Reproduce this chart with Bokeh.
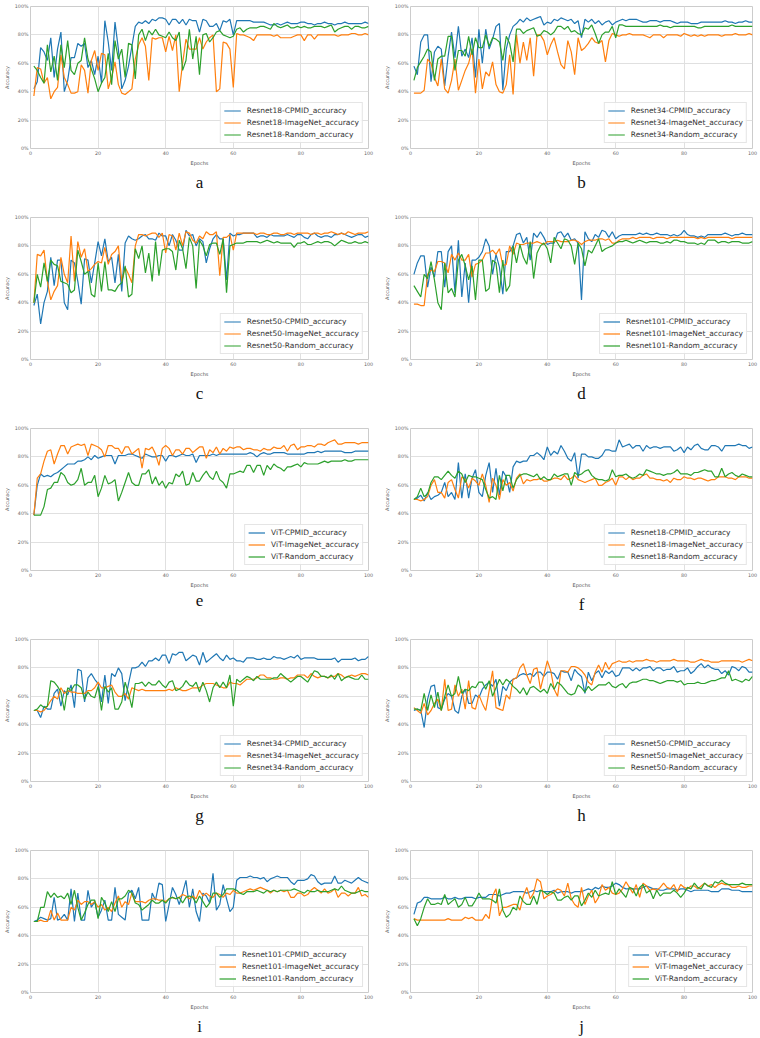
from bokeh.plotting import figure
from bokeh.layouts import row, column
from bokeh.models import FixedTicker, Legend, LegendItem, Title
from bokeh.embed import file_html
from bokeh.resources import INLINE

# ---------------- data (accuracy in %, epochs 1..100) ----------------
a_cpmid = [42, 47, 71, 68, 62, 78, 50, 70, 82, 40,
           48, 64, 64, 74, 72, 74, 57, 62, 52, 65,
           46, 90, 75, 55, 89, 70, 42, 48, 58, 72,
           86, 89, 88, 90, 88, 91, 90, 92, 92, 91,
           87, 91, 91, 88, 91, 87, 91, 90, 90, 82,
           91, 90, 86, 86, 88, 83, 90, 89, 91, 80,
           90, 90, 90, 90, 90, 89, 89, 89, 89, 88,
           87, 87, 88, 87, 88, 89, 88, 88, 88, 89,
           89, 88, 88, 87, 88, 88, 89, 88, 88, 87,
           88, 88, 89, 88, 88, 88, 88, 88, 89, 88]
a_imagenet = [37, 57, 56, 46, 50, 35, 40, 43, 66, 50,
              45, 39, 39, 40, 59, 55, 39, 62, 69, 55,
              67, 66, 42, 50, 61, 45, 39, 38, 40, 42,
              63, 73, 78, 72, 48, 78, 77, 78, 78, 68,
              79, 69, 80, 40, 60, 77, 70, 70, 70, 78,
              70, 75, 78, 80, 40, 42, 75, 74, 70, 43,
              81, 80, 80, 79, 78, 76, 80, 80, 80, 80,
              80, 79, 80, 78, 78, 78, 78, 79, 80, 80,
              76, 80, 80, 77, 80, 80, 80, 80, 80, 80,
              79, 80, 80, 80, 81, 81, 80, 80, 81, 80]
a_random = [58, 55, 50, 46, 73, 54, 65, 48, 73, 57,
            76, 55, 52, 60, 62, 78, 63, 56, 49, 40,
            46, 50, 67, 45, 76, 63, 70, 50, 74, 73,
            49, 80, 84, 76, 83, 80, 84, 80, 79, 78,
            82, 78, 76, 82, 55, 62, 84, 63, 79, 52,
            80, 81, 75, 78, 82, 83, 80, 79, 78, 79,
            84, 85, 82, 84, 85, 85, 85, 86, 86, 85,
            84, 88, 86, 85, 86, 87, 85, 85, 86, 85,
            86, 85, 85, 86, 86, 86, 85, 86, 87, 82,
            84, 85, 86, 86, 84, 86, 86, 85, 85, 86]

b_cpmid = [58, 52, 75, 80, 80, 47, 68, 72, 70, 44,
           65, 82, 64, 86, 65, 70, 64, 78, 50, 84,
           60, 84, 70, 77, 86, 88, 41, 70, 80, 86,
           88, 91, 89, 92, 90, 91, 92, 93, 87, 89,
           88, 91, 90, 92, 91, 90, 91, 88, 90, 78,
           91, 89, 91, 88, 90, 87, 89, 90, 87, 89,
           90, 91, 90, 91, 91, 91, 90, 89, 89, 90,
           90, 90, 89, 90, 90, 90, 89, 88, 89, 89,
           89, 88, 88, 88, 89, 89, 89, 89, 89, 89,
           89, 90, 89, 89, 88, 89, 89, 90, 89, 89]
b_imagenet = [39, 39, 39, 41, 63, 60, 50, 44, 63, 42,
              39, 48, 63, 41, 48, 55, 60, 70, 39, 63,
              42, 54, 51, 61, 45, 40, 39, 45, 66, 38,
              80, 60, 75, 62, 78, 51, 80, 80, 76, 66,
              73, 78, 68, 59, 56, 76, 68, 52, 78, 69,
              71, 74, 78, 75, 74, 76, 61, 76, 81, 80,
              79, 80, 80, 81, 80, 80, 80, 80, 79, 78,
              80, 80, 80, 78, 80, 80, 80, 80, 79, 81,
              80, 79, 80, 79, 80, 79, 80, 80, 80, 80,
              79, 80, 80, 80, 81, 80, 80, 80, 81, 80]
b_random = [48, 57, 61, 65, 70, 68, 48, 63, 65, 65,
            79, 79, 55, 69, 69, 65, 79, 66, 78, 71,
            71, 80, 72, 78, 77, 75, 62, 79, 74, 61,
            84, 84, 81, 83, 84, 85, 79, 80, 83, 82,
            80, 82, 86, 86, 84, 86, 82, 83, 81, 80,
            85, 84, 87, 81, 74, 80, 82, 82, 86, 78,
            87, 87, 86, 86, 86, 86, 86, 86, 86, 86,
            86, 86, 87, 86, 86, 85, 86, 86, 86, 86,
            86, 86, 86, 85, 85, 86, 86, 86, 86, 86,
            86, 86, 86, 87, 86, 86, 86, 86, 86, 86]

c_cpmid = [38, 46, 25, 40, 48, 72, 52, 70, 70, 40,
           35, 70, 68, 55, 39, 71, 70, 54, 68, 83,
           73, 85, 69, 72, 54, 74, 48, 82, 87, 85,
           84, 85, 87, 88, 85, 85, 84, 89, 87, 87,
           80, 88, 84, 77, 77, 91, 87, 88, 80, 85,
           83, 68, 78, 85, 88, 85, 85, 56, 89, 87,
           88, 88, 89, 89, 89, 89, 86, 87, 87, 86,
           88, 87, 87, 87, 87, 88, 87, 86, 88, 88,
           86, 85, 88, 89, 87, 86, 87, 87, 86, 88,
           88, 89, 88, 87, 86, 87, 88, 88, 86, 87]
c_imagenet = [40, 74, 73, 77, 55, 42, 48, 52, 72, 60,
              54, 87, 55, 83, 72, 78, 62, 64, 67, 69,
              68, 79, 67, 74, 76, 80, 55, 65, 60, 54,
              80, 88, 88, 87, 88, 89, 89, 86, 89, 75,
              88, 87, 77, 89, 80, 90, 89, 84, 82, 87,
              85, 90, 88, 88, 90, 59, 86, 86, 88, 77,
              89, 89, 89, 89, 89, 89, 88, 89, 89, 88,
              88, 89, 89, 88, 88, 89, 89, 88, 89, 89,
              89, 89, 88, 89, 89, 88, 89, 89, 90, 89,
              88, 89, 88, 90, 89, 88, 89, 89, 89, 90]
c_random = [40, 60, 51, 68, 55, 70, 67, 66, 55, 54,
            53, 47, 49, 77, 69, 60, 62, 46, 44, 68,
            48, 69, 49, 49, 48, 52, 54, 66, 44, 46,
            78, 71, 80, 61, 75, 55, 83, 59, 77, 78,
            78, 76, 63, 84, 78, 64, 86, 80, 50, 84,
            80, 73, 81, 82, 82, 74, 85, 47, 80, 81,
            82, 82, 82, 83, 83, 83, 83, 82, 83, 84,
            83, 82, 83, 82, 82, 82, 82, 79, 82, 82,
            83, 81, 81, 82, 83, 82, 83, 83, 82, 80,
            82, 84, 83, 82, 82, 83, 82, 82, 83, 82]

d_cpmid = [60, 68, 73, 73, 51, 65, 58, 76, 76, 51,
           76, 80, 47, 84, 44, 68, 40, 70, 70, 72,
           76, 85, 80, 60, 74, 65, 46, 76, 76, 80,
           88, 89, 82, 86, 70, 89, 86, 90, 86, 81,
           82, 82, 89, 90, 86, 89, 84, 85, 82, 42,
           90, 85, 83, 88, 86, 91, 90, 86, 90, 85,
           87, 88, 88, 88, 88, 88, 89, 88, 89, 88,
           88, 89, 88, 88, 88, 87, 88, 87, 88, 91,
           88, 87, 87, 86, 87, 86, 88, 88, 88, 88,
           88, 89, 88, 87, 88, 88, 89, 88, 88, 88]
d_imagenet = [39, 39, 38, 38, 60, 63, 62, 69, 69, 68,
              61, 74, 70, 75, 70, 70, 74, 58, 67, 68,
              70, 75, 75, 77, 74, 78, 66, 67, 80, 74,
              82, 81, 81, 82, 82, 82, 83, 82, 81, 83,
              83, 83, 84, 83, 83, 83, 84, 84, 83, 81,
              83, 84, 84, 84, 85, 85, 84, 85, 82, 82,
              84, 85, 85, 85, 86, 85, 86, 86, 86, 86,
              85, 86, 86, 86, 85, 86, 86, 86, 86, 86,
              86, 86, 86, 85, 86, 85, 86, 86, 86, 86,
              86, 86, 86, 85, 86, 86, 86, 86, 86, 86]
d_random = [52, 48, 44, 60, 57, 69, 56, 40, 35, 68,
            47, 50, 44, 70, 74, 66, 56, 66, 42, 70,
            70, 48, 50, 70, 68, 47, 70, 48, 52, 80,
            68, 81, 72, 67, 83, 57, 75, 80, 82, 78,
            68, 86, 82, 78, 85, 84, 80, 67, 82, 78,
            66, 77, 75, 80, 85, 76, 78, 79, 80, 82,
            83, 83, 84, 83, 82, 83, 84, 83, 82, 83,
            83, 83, 82, 82, 83, 82, 84, 84, 83, 83,
            82, 82, 82, 81, 82, 81, 84, 84, 84, 82,
            83, 83, 82, 83, 83, 83, 82, 82, 82, 83]

e_cpmid = [39, 60, 68, 66, 67, 66, 68, 69, 71, 73,
           75, 75, 75, 77, 77, 78, 80, 78, 81, 79,
           80, 81, 81, 81, 75, 81, 81, 81, 82, 82,
           81, 80, 79, 82, 81, 80, 80, 81, 81, 77,
           81, 81, 80, 81, 82, 81, 81, 82, 76, 81,
           81, 81, 81, 82, 81, 82, 82, 82, 82, 82,
           82, 82, 82, 82, 83, 82, 80, 82, 83, 82,
           82, 83, 83, 83, 83, 82, 82, 82, 82, 82,
           82, 83, 83, 83, 84, 83, 84, 84, 84, 84,
           84, 84, 83, 83, 83, 84, 84, 84, 84, 84]
e_imagenet = [39, 65, 68, 77, 84, 85, 75, 82, 88, 88,
              82, 87, 88, 89, 88, 89, 81, 89, 88, 87,
              85, 80, 88, 88, 86, 86, 82, 87, 87, 82,
              84, 86, 72, 86, 85, 87, 82, 74, 86, 88,
              86, 81, 85, 85, 82, 86, 86, 83, 85, 87,
              87, 79, 85, 83, 87, 82, 86, 84, 87, 86,
              87, 87, 85, 86, 86, 85, 85, 84, 86, 85,
              85, 87, 86, 86, 88, 84, 88, 89, 85, 87,
              87, 88, 88, 87, 89, 89, 88, 90, 91, 92,
              89, 89, 90, 90, 90, 90, 89, 90, 90, 90]
e_random = [39, 39, 39, 45, 57, 58, 62, 62, 69, 67,
            62, 60, 61, 64, 72, 60, 62, 62, 67, 52,
            58, 67, 61, 62, 64, 49, 55, 62, 69, 62,
            60, 60, 68, 68, 71, 61, 66, 60, 63, 58,
            62, 61, 68, 66, 70, 60, 61, 69, 63, 63,
            67, 70, 66, 64, 70, 64, 62, 58, 68, 68,
            69, 70, 69, 74, 74, 69, 74, 74, 67, 74,
            71, 75, 73, 72, 70, 73, 73, 74, 75, 73,
            76, 75, 75, 75, 75, 76, 77, 76, 77, 77,
            77, 77, 78, 77, 77, 78, 78, 78, 78, 78]

f_cpmid = [50, 51, 53, 49, 55, 50, 52, 53, 55, 62,
           52, 55, 50, 76, 51, 68, 51, 65, 71, 55,
           52, 67, 76, 55, 72, 53, 70, 66, 55, 73,
           77, 76, 77, 77, 81, 81, 83, 81, 78, 87,
           81, 84, 82, 88, 84, 79, 77, 83, 65, 82,
           82, 80, 80, 79, 79, 81, 85, 85, 84, 84,
           92, 87, 88, 89, 86, 88, 88, 84, 88, 86,
           87, 87, 86, 87, 87, 87, 84, 85, 87, 83,
           87, 85, 88, 89, 86, 85, 85, 88, 88, 87,
           84, 88, 88, 88, 88, 89, 88, 88, 86, 87]
f_imagenet = [50, 50, 49, 50, 52, 60, 64, 55, 55, 51,
              62, 64, 57, 51, 66, 64, 58, 65, 63, 60,
              68, 60, 48, 65, 60, 50, 64, 60, 62, 56,
              65, 68, 61, 64, 63, 64, 64, 65, 63, 63,
              64, 65, 65, 64, 67, 64, 65, 67, 64, 63,
              62, 63, 64, 65, 60, 60, 62, 63, 65, 60,
              66, 66, 64, 66, 64, 65, 65, 67, 68, 65,
              65, 64, 64, 63, 64, 62, 65, 64, 64, 66,
              65, 65, 64, 65, 65, 64, 63, 64, 64, 66,
              66, 66, 65, 65, 64, 66, 66, 66, 65, 65]
f_random = [50, 52, 58, 52, 54, 62, 66, 66, 64, 67,
            70, 67, 65, 70, 68, 62, 67, 66, 66, 65,
            64, 57, 51, 52, 50, 67, 56, 67, 67, 58,
            64, 67, 68, 68, 67, 66, 68, 64, 66, 64,
            64, 68, 66, 67, 68, 68, 60, 69, 67, 68,
            70, 71, 67, 65, 64, 64, 63, 64, 71, 66,
            67, 67, 68, 66, 65, 66, 68, 67, 71, 70,
            69, 68, 68, 67, 68, 68, 69, 71, 68, 68,
            68, 67, 69, 69, 70, 71, 70, 70, 66, 66,
            72, 66, 68, 69, 67, 66, 68, 67, 66, 66]

g_cpmid = [50, 50, 45, 53, 51, 51, 62, 65, 53, 64,
           61, 68, 52, 79, 78, 56, 73, 76, 72, 69,
           56, 75, 55, 76, 74, 80, 76, 57, 69, 80,
           80, 81, 84, 81, 85, 85, 87, 85, 89, 89,
           83, 90, 89, 91, 91, 85, 87, 89, 88, 82,
           91, 84, 86, 88, 90, 87, 85, 89, 86, 87,
           85, 85, 84, 87, 87, 87, 86, 86, 87, 86,
           86, 88, 87, 87, 86, 87, 88, 87, 89, 86,
           87, 87, 87, 87, 86, 86, 86, 86, 86, 87,
           84, 86, 86, 86, 86, 87, 85, 86, 86, 88]
g_imagenet = [50, 50, 49, 50, 53, 57, 60, 58, 66, 62,
              64, 63, 63, 62, 62, 62, 64, 64, 66, 70,
              66, 66, 67, 68, 63, 60, 60, 62, 58, 66,
              65, 64, 65, 64, 64, 64, 64, 64, 64, 64,
              65, 64, 66, 65, 64, 64, 65, 66, 66, 66,
              68, 69, 69, 69, 68, 67, 66, 66, 70, 69,
              69, 68, 70, 72, 72, 72, 73, 75, 75, 73,
              73, 72, 72, 73, 73, 72, 73, 73, 75, 75,
              75, 73, 76, 74, 73, 74, 74, 73, 74, 74,
              76, 75, 73, 74, 75, 74, 75, 76, 76, 75]
g_random = [50, 51, 54, 52, 53, 71, 70, 67, 63, 50,
            66, 64, 68, 68, 66, 58, 63, 60, 59, 67,
            50, 67, 63, 66, 51, 51, 56, 70, 62, 52,
            69, 69, 70, 67, 70, 68, 68, 71, 68, 66,
            70, 71, 64, 65, 67, 71, 68, 67, 70, 63,
            70, 64, 56, 66, 70, 66, 70, 66, 75, 53,
            72, 70, 72, 74, 73, 71, 74, 72, 72, 72,
            72, 73, 73, 76, 74, 72, 70, 72, 74, 74,
            72, 70, 74, 78, 77, 74, 74, 73, 75, 72,
            76, 71, 73, 74, 73, 72, 72, 75, 72, 72]

h_cpmid = [50, 51, 50, 38, 58, 67, 68, 52, 51, 58,
           62, 60, 50, 48, 60, 65, 55, 55, 61, 59,
           65, 68, 70, 67, 72, 53, 67, 64, 70, 72,
           73, 75, 76, 75, 76, 74, 77, 77, 74, 77,
           77, 76, 72, 78, 77, 77, 71, 79, 76, 74,
           62, 77, 71, 76, 78, 73, 78, 76, 78, 74,
           75, 80, 80, 80, 78, 80, 78, 80, 80, 81,
           78, 80, 80, 78, 79, 79, 81, 77, 78, 78,
           80, 76, 78, 81, 83, 80, 82, 80, 79, 79,
           76, 78, 75, 81, 80, 78, 81, 80, 77, 77]
h_imagenet = [52, 50, 48, 55, 47, 50, 55, 58, 50, 72,
              50, 51, 68, 60, 65, 51, 71, 52, 51, 61,
              55, 50, 64, 78, 52, 51, 50, 61, 58, 72,
              73, 80, 83, 75, 69, 79, 80, 65, 75, 85,
              78, 65, 60, 78, 78, 77, 81, 81, 80, 78,
              75, 70, 68, 77, 82, 77, 84, 79, 83, 84,
              85, 84, 84, 85, 84, 85, 85, 85, 86, 85,
              85, 84, 85, 85, 85, 85, 86, 85, 85, 85,
              85, 84, 84, 85, 86, 85, 85, 84, 84, 84,
              85, 85, 85, 85, 85, 85, 84, 85, 86, 85]
h_random = [51, 51, 50, 62, 50, 61, 52, 63, 50, 60,
            68, 60, 62, 74, 62, 65, 64, 67, 66, 70,
            70, 65, 71, 60, 66, 72, 68, 72, 70, 67,
            65, 62, 66, 61, 66, 67, 65, 63, 65, 62,
            69, 65, 70, 68, 65, 62, 61, 62, 68, 66,
            63, 67, 64, 66, 68, 68, 68, 70, 67, 66,
            68, 69, 66, 69, 70, 70, 71, 72, 72, 71,
            71, 70, 69, 70, 71, 71, 71, 70, 71, 68,
            69, 69, 69, 70, 69, 69, 70, 71, 71, 72,
            73, 73, 78, 71, 72, 71, 70, 72, 71, 74]

i_cpmid = [50, 51, 53, 52, 51, 52, 67, 51, 52, 55,
           51, 73, 50, 70, 51, 51, 72, 60, 64, 53,
           58, 65, 51, 51, 74, 55, 53, 51, 70, 72,
           66, 74, 51, 51, 51, 70, 65, 77, 76, 50,
           62, 74, 69, 62, 70, 79, 60, 73, 57, 50,
           70, 68, 63, 84, 58, 62, 76, 66, 57, 60,
           79, 81, 81, 81, 82, 81, 81, 80, 81, 78,
           80, 81, 82, 81, 81, 81, 78, 76, 79, 79,
           79, 80, 83, 82, 78, 76, 77, 77, 77, 82,
           77, 77, 79, 78, 77, 79, 81, 79, 78, 77]
i_imagenet = [50, 50, 51, 50, 50, 58, 51, 56, 51, 51,
              51, 60, 58, 65, 62, 64, 64, 62, 64, 60,
              62, 58, 60, 57, 63, 68, 60, 64, 62, 70,
              64, 64, 64, 63, 65, 66, 66, 65, 65, 64,
              66, 67, 66, 67, 69, 68, 66, 68, 66, 72,
              68, 70, 68, 67, 70, 69, 67, 70, 69, 72,
              70, 70, 71, 72, 73, 72, 73, 74, 73, 72,
              70, 72, 71, 72, 71, 72, 67, 67, 70, 70,
              68, 69, 72, 74, 72, 70, 73, 70, 71, 73,
              67, 70, 70, 68, 70, 70, 74, 68, 69, 67]
i_random = [50, 50, 60, 60, 71, 67, 70, 67, 68, 66,
            70, 62, 72, 60, 51, 56, 62, 65, 65, 52,
            67, 63, 57, 64, 57, 66, 66, 68, 72, 70,
            63, 62, 58, 60, 62, 65, 63, 63, 65, 63,
            66, 67, 66, 67, 63, 67, 68, 67, 63, 68,
            64, 60, 63, 70, 70, 67, 69, 73, 73, 73,
            72, 70, 69, 71, 71, 71, 72, 71, 70, 72,
            71, 72, 71, 72, 72, 72, 72, 73, 72, 71,
            70, 72, 71, 71, 72, 71, 71, 71, 72, 73,
            72, 75, 72, 71, 70, 70, 71, 72, 71, 71]

j_cpmid = [55, 63, 64, 67, 67, 66, 66, 66, 66, 67,
           66, 66, 67, 66, 66, 67, 67, 67, 66, 67,
           67, 67, 69, 69, 69, 68, 69, 70, 70, 71,
           71, 71, 71, 70, 71, 72, 71, 72, 71, 71,
           71, 72, 70, 71, 71, 71, 70, 71, 71, 71,
           72, 73, 72, 74, 73, 75, 74, 74, 75, 77,
           76, 74, 73, 73, 73, 73, 73, 74, 75, 74,
           73, 73, 72, 72, 73, 73, 73, 72, 73, 73,
           72, 71, 72, 72, 72, 72, 72, 71, 71, 71,
           73, 73, 73, 72, 72, 72, 71, 71, 71, 71]
j_imagenet = [52, 51, 51, 51, 51, 51, 51, 51, 51, 51,
              52, 51, 51, 51, 51, 53, 52, 53, 51, 51,
              51, 55, 52, 68, 73, 54, 60, 60, 61, 62,
              62, 58, 68, 74, 66, 70, 80, 78, 66, 68,
              69, 71, 73, 72, 68, 77, 66, 62, 60, 74,
              62, 68, 72, 63, 67, 76, 72, 74, 70, 69,
              70, 73, 78, 74, 70, 76, 67, 77, 75, 72,
              73, 72, 74, 77, 74, 73, 76, 71, 76, 74,
              73, 75, 75, 73, 75, 77, 75, 76, 74, 76,
              77, 76, 76, 74, 74, 75, 74, 74, 75, 75]
j_random = [52, 47, 52, 60, 66, 62, 62, 63, 62, 69,
            62, 64, 66, 60, 62, 67, 61, 61, 65, 70,
            66, 66, 66, 65, 63, 73, 58, 53, 55, 60,
            58, 68, 64, 62, 62, 68, 62, 72, 71, 69,
            71, 70, 65, 65, 67, 68, 65, 68, 68, 61,
            65, 70, 67, 72, 68, 69, 70, 69, 78, 69,
            73, 70, 67, 74, 73, 68, 74, 76, 70, 72,
            66, 72, 68, 70, 70, 70, 72, 70, 67, 70,
            74, 73, 77, 74, 73, 77, 75, 74, 78, 77,
            79, 77, 76, 76, 76, 76, 77, 76, 76, 76]

letters = ["a", "b", "c", "d", "e", "f", "g", "h", "i", "j"]
models = ["Resnet18", "Resnet34", "Resnet50", "Resnet101", "ViT",
          "Resnet18", "Resnet34", "Resnet50", "Resnet101", "ViT"]
series = [(a_cpmid, a_imagenet, a_random), (b_cpmid, b_imagenet, b_random),
          (c_cpmid, c_imagenet, c_random), (d_cpmid, d_imagenet, d_random),
          (e_cpmid, e_imagenet, e_random), (f_cpmid, f_imagenet, f_random),
          (g_cpmid, g_imagenet, g_random), (h_cpmid, h_imagenet, h_random),
          (i_cpmid, i_imagenet, i_random), (j_cpmid, j_imagenet, j_random)]
suffixes = ["CPMID", "ImageNet", "Random"]
colors = ["#1f77b4", "#ff7f0e", "#2ca02c"]
y_ticks = [0, 20, 40, 60, 80, 100]
x_ticks = [0, 20, 40, 60, 80, 100]

GRID = "#e0e0e0"
TXT = "#666666"


def make_panel(idx):
    letter, model, data = letters[idx], models[idx], series[idx]
    left_col = idx % 2 == 0
    last = idx >= 8
    h = 194 if last else 211
    top = 6
    frame_h = 142
    p = figure(width=380, height=h, x_range=(0, 100), y_range=(0, 100),
               output_backend="svg", toolbar_location=None,
               min_border_top=top, min_border_bottom=h - top - frame_h,
               min_border_left=24, min_border_right=12 if left_col else 8)
    p.background_fill_color = "white"
    p.border_fill_color = "white"
    p.outline_line_color = "#cccccc"
    p.outline_line_width = 1

    renderers = []
    for s, c in zip(data, colors):
        xs = list(range(1, len(s) + 1))
        r = p.line(xs, s, line_color=c, line_width=1.2)
        renderers.append(r)

    p.xaxis.ticker = FixedTicker(ticks=x_ticks)
    p.yaxis.ticker = FixedTicker(ticks=y_ticks)
    p.yaxis.major_label_overrides = {t: f"{t}%" for t in y_ticks}
    for ax in (p.xaxis[0], p.yaxis[0]):
        ax.axis_line_color = None
        ax.major_tick_line_color = None
        ax.major_tick_out = 0
        ax.major_tick_in = 0
        ax.minor_tick_line_color = None
        ax.minor_tick_out = 0
        ax.major_label_text_font = "DejaVu Sans"
        ax.major_label_text_font_size = "4.8px"
        ax.major_label_text_color = TXT
        ax.major_label_standoff = 2
        ax.axis_label_text_font = "DejaVu Sans"
        ax.axis_label_text_font_size = "5px"
        ax.axis_label_text_font_style = "normal"
        ax.axis_label_text_color = "#555555"
        ax.axis_label_standoff = 2
    p.xaxis.axis_label = "Epochs"
    p.yaxis.axis_label = "Accuracy"
    p.xgrid.grid_line_color = GRID
    p.ygrid.grid_line_color = GRID

    items = [LegendItem(label=f"{model}-{suf}_accuracy", renderers=[r])
             for suf, r in zip(suffixes, renderers)]
    legend = Legend(items=items, location="bottom_right",
                    label_text_font="DejaVu Sans", label_text_font_size="7.5px",
                    label_text_color="#333333", glyph_width=17, glyph_height=9,
                    label_height=9, label_standoff=6, spacing=3, padding=3,
                    margin=5, border_line_color="#cccccc",
                    background_fill_color="white", background_fill_alpha=0.85)
    p.add_layout(legend)

    t = Title(text=letter, align="center", text_font="Liberation Serif",
              text_font_size="17px", text_font_style="normal",
              text_color="#111111", standoff=4)
    p.add_layout(t, "below")
    return p


panels = [make_panel(k) for k in range(10)]
layout = column(*[row(panels[2 * r], panels[2 * r + 1]) for r in range(5)])

open("out.html", "w").write(file_html(layout, INLINE))
